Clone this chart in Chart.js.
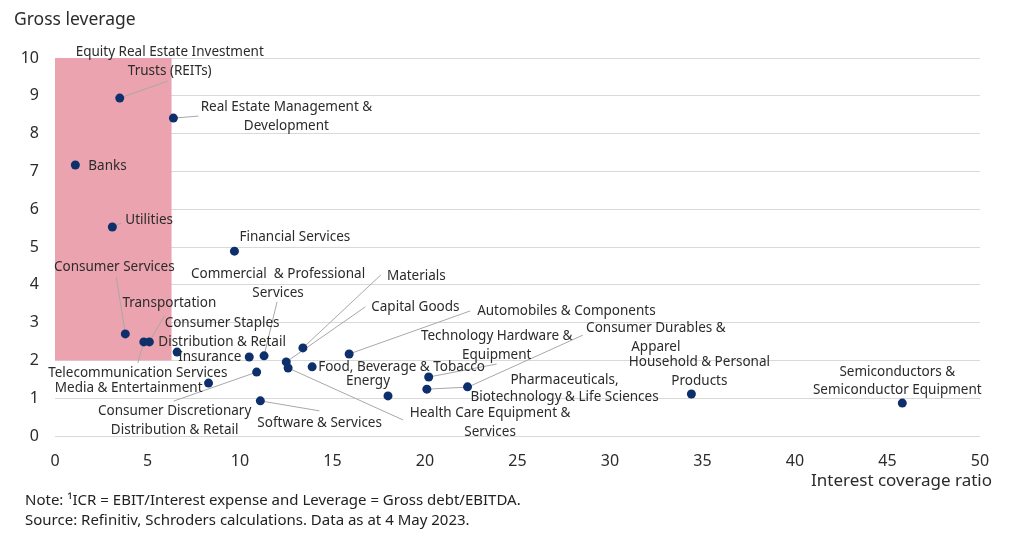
<!DOCTYPE html>
<html>
<head>
<meta charset="utf-8">
<script src="https://cdn.jsdelivr.net/npm/chart.js@4.4.1/dist/chart.umd.min.js"></script>
<style>
  body { margin: 0; background: #fff; font-family: "Noto Sans", sans-serif; }
  #wrap { position: relative; width: 1024px; height: 537px; }
  #myChart { position: absolute; left: 0; top: 0; }
  .note { position: absolute; left: 25px; font-size: 15px; line-height: 20px; color: #222; white-space: nowrap; }
</style>
</head>
<body>
<div id="wrap">
  <canvas id="myChart" width="1024" height="537"></canvas>
  <div class="note" style="top:489px">Note: ¹ICR = EBIT/Interest expense and Leverage = Gross debt/EBITDA.</div>
  <div class="note" style="top:509px">Source: Refinitiv, Schroders calculations. Data as at 4 May 2023.</div>
</div>
<script>
const sectors = [
  'Equity Real Estate Investment\nTrusts (REITs)',
  'Real Estate Management &\nDevelopment',
  'Banks',
  'Utilities',
  'Financial Services',
  'Consumer Services',
  'Transportation',
  'Telecommunication Services',
  'Consumer Staples\nDistribution & Retail',
  'Insurance',
  'Commercial  & Professional\nServices',
  'Media & Entertainment',
  'Consumer Discretionary\nDistribution & Retail',
  'Software & Services',
  'Materials',
  'Capital Goods',
  'Health Care Equipment &\nServices',
  'Food, Beverage & Tobacco',
  'Automobiles & Components',
  'Energy',
  'Technology Hardware &\nEquipment',
  'Consumer Durables &\nApparel',
  'Pharmaceuticals,\nBiotechnology & Life Sciences',
  'Household & Personal\nProducts',
  'Semiconductors &\nSemiconductor Equipment'
];
const icr = [3.5, 6.4, 1.1, 3.1, 9.7, 3.8, 5.1, 4.8, 6.6, 10.5, 11.3, 8.3, 10.9, 11.1,
  13.4, 12.5, 12.6, 13.9, 15.9, 18.0, 20.2, 20.1, 22.3, 34.4, 45.8];
const leverage = [8.94, 8.41, 7.17, 5.53, 4.89, 2.70, 2.49, 2.49, 2.22, 2.09, 2.12, 1.40, 1.69, 0.93,
  2.33, 1.96, 1.80, 1.83, 2.17, 1.06, 1.56, 1.24, 1.30, 1.11, 0.87];
const xTicks = [0, 5, 10, 15, 20, 25, 30, 35, 40, 45, 50];
const yTicks = [0, 1, 2, 3, 4, 5, 6, 7, 8, 9, 10];
const highlightIcr = [0, 6.3];
const highlightLeverage = [2, 10];

// label placement: offset from the point in px, text alignment, leader path
const labelLayout = [
  { dx: 50, dy: -46, align: 'center', leader: [[48, -17]] },
  { dx: 113, dy: -11, align: 'center', leader: [[25, -2]] },
  { dx: 13, dy: 1, align: 'left' },
  { dx: 13, dy: -7, align: 'left', leader: [[9, -4]] },
  { dx: 5, dy: -14, align: 'left' },
  { dx: -11, dy: -67, align: 'center', leader: [[-9, -57]] },
  { dx: 20, dy: -39, align: 'center', leader: [[15, -26]] },
  { dx: -6, dy: 31, align: 'center', leader: [[-6, 21]] },
  { dx: 45, dy: -29, align: 'center' },
  { dx: -8, dy: 0, align: 'right' },
  { dx: 14, dy: -82, align: 'center', leader: [[13, -54]] },
  { dx: -6, dy: 5, align: 'right' },
  { dx: -82, dy: 39, align: 'center', leader: [[-83, 29]] },
  { dx: -3, dy: 22, align: 'left', leader: [[59, 10]] },
  { dx: 84, dy: -72, align: 'left', leader: [[78, -73]] },
  { dx: 85, dy: -55, align: 'left', leader: [[79, -55]] },
  { dx: 202, dy: 45, align: 'center', leader: [[115, 52]] },
  { dx: 6, dy: 0, align: 'left' },
  { dx: 128, dy: -43, align: 'left', leader: [[121, -43]] },
  { dx: -20, dy: -15, align: 'center' },
  { dx: 68, dy: -41, align: 'center', leader: [[68, -13]] },
  { dx: 229, dy: -61, align: 'center', leader: [[41, -2], [156, -54]] },
  { dx: 97, dy: -7, align: 'center', gap: 17 },
  { dx: 8, dy: -32, align: 'center' },
  { dx: -5, dy: -31, align: 'center', gap: 18 }
];

const textColor = '#2b2b2b';
const fontFamily = '"Noto Sans", sans-serif';

const annotate = {
  id: 'annotate',
  beforeDatasetsDraw(chart) {
    const { ctx, scales: { x, y } } = chart;
    ctx.save();
    ctx.fillStyle = '#eba4af';
    const x0 = x.getPixelForValue(highlightIcr[0]);
    const x1 = x.getPixelForValue(highlightIcr[1]);
    const y0 = y.getPixelForValue(highlightLeverage[1]);
    const y1 = y.getPixelForValue(highlightLeverage[0]);
    ctx.fillRect(x0, y0, x1 - x0, y1 - y0);

    ctx.strokeStyle = '#a8a8a8';
    ctx.lineWidth = 1;
    sectors.forEach((s, i) => {
      const L = labelLayout[i];
      if (!L.leader) return;
      const px = x.getPixelForValue(icr[i]);
      const py = y.getPixelForValue(leverage[i]);
      ctx.beginPath();
      ctx.moveTo(px, py);
      L.leader.forEach(([dx, dy]) => ctx.lineTo(px + dx, py + dy));
      ctx.stroke();
    });
    ctx.restore();
  },
  afterDatasetsDraw(chart) {
    const { ctx, scales: { x, y } } = chart;
    ctx.save();
    ctx.fillStyle = textColor;
    ctx.font = '13.5px ' + fontFamily;
    ctx.textBaseline = 'middle';
    sectors.forEach((s, i) => {
      const L = labelLayout[i];
      const px = x.getPixelForValue(icr[i]);
      const py = y.getPixelForValue(leverage[i]);
      ctx.textAlign = L.align;
      s.split('\n').forEach((line, k) => {
        ctx.fillText(line, px + L.dx, py + L.dy + k * (L.gap || 19));
      });
    });
    ctx.restore();
  },
  afterDraw(chart) {
    const { ctx } = chart;
    ctx.save();
    ctx.fillStyle = textColor;
    ctx.textBaseline = 'middle';
    ctx.font = '17.5px ' + fontFamily;
    ctx.textAlign = 'left';
    ctx.fillText('Gross leverage', 14, 20);
    ctx.font = '17px ' + fontFamily;
    ctx.textAlign = 'right';
    ctx.fillText('Interest coverage ratio', 992, 481);
    ctx.restore();
  }
};

const ctx = document.getElementById('myChart');

new Chart(ctx, {
  type: 'scatter',
  data: {
    datasets: [{
      data: icr.map((v, i) => ({ x: v, y: leverage[i] })),
      backgroundColor: '#0d2f6c',
      borderWidth: 0,
      pointRadius: 4.5
    }]
  },
  options: {
    responsive: false,
    animation: false,
    events: [],
    layout: { padding: { top: 58, right: 44, left: 0, bottom: 0 } },
    plugins: { legend: { display: false }, tooltip: { enabled: false } },
    scales: {
      x: {
        type: 'linear',
        min: 0,
        max: 50,
        afterBuildTicks: (scale) => { scale.ticks = xTicks.map(v => ({ value: v })); },
        afterFit: (scale) => { scale.height = 101; },
        ticks: { color: textColor, font: { family: fontFamily, size: 16 }, padding: 16, maxRotation: 0 },
        grid: { display: false, drawTicks: false },
        border: { display: false }
      },
      y: {
        min: 0,
        max: 10,
        afterBuildTicks: (scale) => { scale.ticks = yTicks.map(v => ({ value: v })); },
        afterFit: (scale) => { scale.width = 55; },
        ticks: { color: textColor, font: { family: fontFamily, size: 16 }, padding: 16 },
        grid: { color: '#d9d9d9', drawTicks: false },
        border: { display: false }
      }
    }
  },
  plugins: [annotate]
});
</script>
</body>
</html>
